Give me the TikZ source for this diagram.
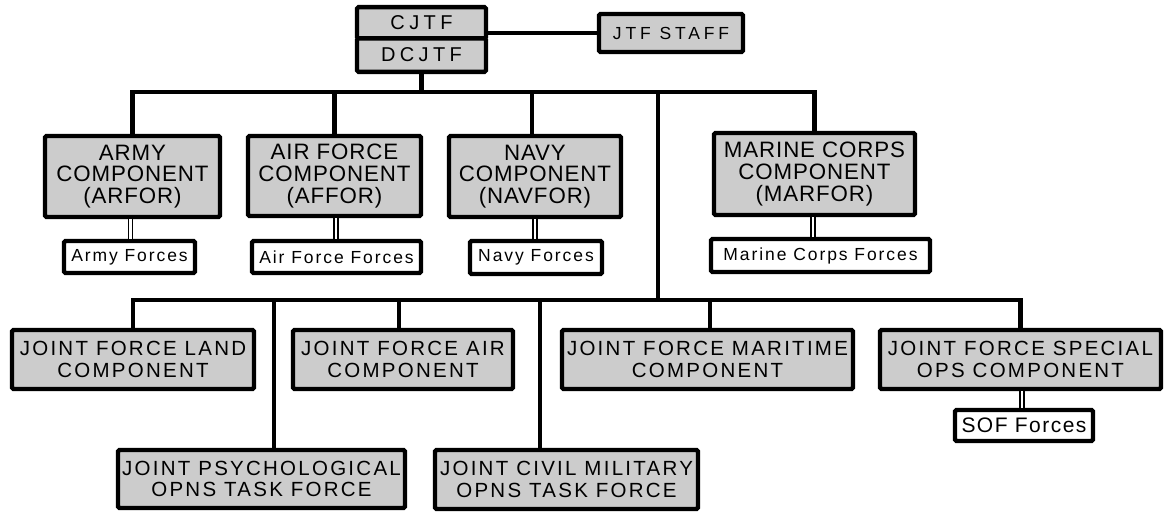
\documentclass[tikz,border=0pt]{standalone}
\usepackage{fontspec}
\setmainfont{Liberation Sans}[LetterSpace=11]
\newfontfamily\svcfont{Liberation Sans}[LetterSpace=4]
\newfontfamily\cmdfont{Liberation Sans}[LetterSpace=22]
\newfontfamily\soffont{Liberation Sans}[LetterSpace=7]
\definecolor{boxgray}{RGB}{204,204,204}
\begin{document}
\begin{tikzpicture}[x=1pt,y=-1pt,
  sz/.style 2 args={minimum width=#1pt, minimum height=#2pt},
  unit/.style={draw=black, fill=boxgray, line width=4.3pt, rounded corners=1.5pt,
    inner sep=0pt, align=center, font=\fontsize{20.5}{21.5}\selectfont},
  service/.style={unit, font=\svcfont\fontsize{22.3}{21.7}\selectfont},
  command/.style={unit, font=\cmdfont\fontsize{20}{22}\selectfont},
  forces/.style={draw=black, fill=white, line width=4.3pt, rounded corners=1.5pt,
    inner sep=0pt, font=\fontsize{17.5}{20}\selectfont},
  link/.style={line width=4.5pt, line join=miter},
  dbl/.style={line width=1.4pt, double=white, double distance=2.8pt}]
\useasboundingbox (0,0) rectangle (1164,514);

% command group
\node[command, sz={129}{31.2}] (cjtf)  at (421.5,22.7) {CJTF};
\node[command, sz={129}{33.5}] (dcjtf) at (421.5,55.1) {DCJTF};
\node[command, sz={144}{38}, font=\cmdfont\fontsize{17.5}{20}\selectfont] (staff) at (671,33) {JTF STAFF};

% service components
\node[service, sz={175}{81}] (army)   at (132.5,176.5) {ARMY\\COMPONENT\\(ARFOR)};
\node[service, sz={173}{80}] (airf)   at (334.5,176)   {AIR FORCE\\COMPONENT\\(AFFOR)};
\node[service, sz={172}{81}] (navy)   at (535,176.5)   {NAVY\\COMPONENT\\(NAVFOR)};
\node[service, sz={201}{82}] (marine) at (814.5,174)   {MARINE CORPS\\COMPONENT\\(MARFOR)};

\node[forces, sz={131}{32}] (armyf)   at (129.5,257)   {Army Forces};
\node[forces, sz={169}{32}] (airff)   at (336.5,257)   {Air Force Forces};
\node[forces, sz={132}{33}] (navyf)   at (536,257.5)   {Navy Forces};
\node[forces, sz={219}{33}] (marinef) at (820.5,255.5) {Marine Corps Forces};

% functional components
\node[unit, sz={242}{59}] (land)  at (133,359.5)   {JOINT FORCE LAND\\COMPONENT};
\node[unit, sz={220}{59}] (jfac)  at (403,359.5)   {JOINT FORCE AIR\\COMPONENT};
\node[unit, sz={291}{59}] (marit) at (707.5,359.5) {JOINT FORCE MARITIME\\COMPONENT};
\node[unit, sz={281}{59}] (jsoc)  at (1020.5,359.5){JOINT FORCE SPECIAL\\OPS COMPONENT};
\node[forces, sz={138}{31}, font=\soffont\fontsize{21}{22}\selectfont] (soff) at (1024,425.5) {SOF Forces};

\node[unit, sz={287}{58}] (psyop) at (261.5,479)   {JOINT PSYCHOLOGICAL\\OPNS TASK FORCE};
\node[unit, sz={263}{59}] (civil) at (566.5,479.5) {JOINT CIVIL MILITARY\\OPNS TASK FORCE};

% bus levels
\coordinate (ubus) at (0,92);
\coordinate (lbus) at (0,300);
\coordinate (drop) at (658,92);

% command lines
\draw[link] (staff.west) -- (staff.west -| cjtf.east);
\draw[link] (dcjtf.south) -- (dcjtf.south |- ubus);
\draw[link] (army.north) -- (army.north |- ubus) -| (marine.north);
\draw[link] (airf.north) -- (airf.north |- ubus);
\path ([xshift=-3pt]navy.north) coordinate (navytop);
\draw[link] (navytop) -- (navytop |- ubus);
\draw[link] (drop) -- (drop |- lbus);

\draw[link] (land.north) -- (land.north |- lbus) -| (jsoc.north);
\path ([xshift=-4pt]jfac.north) coordinate (jfactop);
\draw[link] (jfactop) -- (jfactop |- lbus);
\path ([xshift=2.5pt]marit.north) coordinate (marittop);
\draw[link] (marittop) -- (marittop |- lbus);
\path ([xshift=12.5pt]psyop.north) coordinate (psytop);
\draw[link] (psytop) -- (psytop |- lbus);
\path ([xshift=-26.5pt]civil.north) coordinate (civtop);
\draw[link] (civtop) -- (civtop |- lbus);

% assigned forces
\draw[dbl] ([xshift=-2pt]army.south) -- ([xshift=-2pt]army.south |- armyf.north);
\draw[dbl] ([xshift=1.5pt]airf.south) -- ([xshift=1.5pt]airf.south |- airff.north);
\draw[dbl] (navy.south) -- (navy.south |- navyf.north);
\draw[dbl] ([xshift=-1.5pt]marine.south) -- ([xshift=-1.5pt]marine.south |- marinef.north);
\draw[dbl] ([xshift=1.5pt]jsoc.south) -- ([xshift=1.5pt]jsoc.south |- soff.north);
\end{tikzpicture}
\end{document}
